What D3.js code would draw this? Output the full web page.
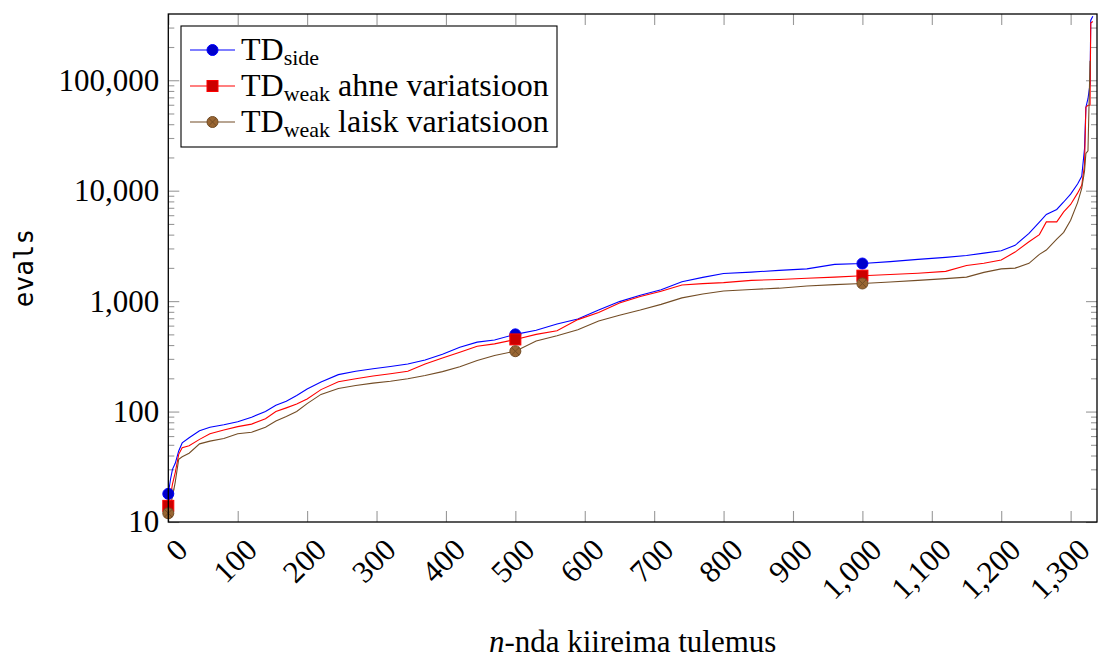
<!DOCTYPE html>
<html>
<head>
<meta charset="utf-8">
<script src="https://cdn.jsdelivr.net/npm/d3@7"></script>
<style>
  body { margin: 0; background: #fff; }
  text { white-space: pre; }
</style>
</head>
<body>
<div id="chart"></div>
<script>
// n-th fastest result (rank) and evals for each variant
let ranks = [0, 3, 6, 10, 15, 20, 30, 45, 60, 80,
    100, 120, 140, 155, 170, 185, 200, 220, 245, 270,
    295, 320, 345, 370, 395, 420, 445, 470, 500, 530,
    560, 590, 620, 650, 680, 710, 740, 770, 800, 840,
    880, 920, 960, 1000, 1040, 1080, 1120, 1150, 1175, 1200,
    1220, 1240, 1255, 1265, 1280, 1290, 1300, 1310, 1316, 1320,
    1322, 1325, 1328, 1329, 1332];

let tdSide = [18, 24, 30, 34, 44, 52, 58, 67, 72, 76,
    81, 89, 100, 114, 124, 140, 160, 185, 216, 232,
    244, 256, 270, 293, 330, 382, 425, 445, 500, 545,
    620, 690, 830, 990, 1130, 1270, 1500, 1640, 1780, 1830,
    1900, 1960, 2150, 2190, 2280, 2390, 2490, 2590, 2720, 2860,
    3200, 4100, 5200, 6100, 6760, 7900, 9300, 11500, 13500, 24000,
    57000, 68000, 93000, 350000, 380000];

let tdWeakAhne = [14, 17, 22, 28, 41, 47, 49, 56, 63, 68,
    73, 77, 86, 100, 108, 117, 130, 158, 186, 198,
    210, 220, 232, 270, 305, 345, 390, 410, 450, 500,
    540, 680, 790, 960, 1100, 1230, 1400, 1440, 1470, 1540,
    1570, 1610, 1650, 1700, 1740, 1790, 1860, 2100, 2200, 2360,
    2780, 3450, 4000, 5220, 5220, 6430, 7500, 9500, 11200, 17000,
    57000, 59400, 59400, 330000, 340000];

let tdWeakLaisk = [12, 14, 17, 23, 37, 39, 42, 51, 54, 57,
    63, 65, 72, 82, 90, 100, 118, 143, 162, 172,
    181, 188, 198, 212, 230, 255, 290, 322, 352, 435,
    485, 550, 660, 745, 830, 935, 1070, 1160, 1235, 1275,
    1310, 1370, 1410, 1445, 1490, 1540, 1600, 1650, 1820, 1960,
    1990, 2200, 2650, 2900, 3650, 4200, 5400, 7800, 10500, 15000,
    21700, 23000, 150000, null, null];

let markRanks = [0, 500, 1000];
let xTicks = d3.range(0, 1301, 100);
let yTicks = [10, 100, 1000, 10000, 100000];

let seriesList = [
    { values: tdSide, sub: 'side', rest: '', color: '#0000ff', fill: '#0000cc', mark: 'circle' },
    { values: tdWeakAhne, sub: 'weak', rest: ' ahne variatsioon', color: '#ff0000', fill: '#cc0000', mark: 'square' },
    { values: tdWeakLaisk, sub: 'weak', rest: ' laisk variatsioon', color: '#734d26', fill: '#996633', mark: 'otimes' }
];

let width = 1100, height = 659;
let plotLeft = 168.3, plotRight = 1097, plotTop = 14, plotBottom = 522;
let serif = '"Liberation Serif", "Times New Roman", serif';

let svg = d3.select('#chart').append('svg')
    .attr('width', width)
    .attr('height', height);

let x = d3.scaleLinear().domain([0, 1338]).range([plotLeft, plotRight]);
let y = d3.scaleLog().domain([10, 398000]).range([plotBottom, plotTop]);

// minor ticks for the log axis
let minorTicks = [];
for (let e = 1; e <= 5; e++) {
    for (let m = 2; m <= 9; m++) {
        let v = m * Math.pow(10, e);
        if (v < 398000) minorTicks.push(v);
    }
}

function styleTicks(g) {
    g.select('.domain').remove();
    g.selectAll('.tick line').attr('stroke', '#999').attr('stroke-width', 1.1);
}

// bottom axis
let xAxisG = svg.append('g')
    .attr('transform', 'translate(0,' + plotBottom + ')')
    .call(d3.axisBottom(x).tickValues(xTicks).tickSize(-11).tickFormat(d3.format(',')))
    .call(styleTicks);

xAxisG.selectAll('.tick text')
    .attr('x', 0).attr('y', 0).attr('dy', '0.35em')
    .attr('text-anchor', 'end')
    .attr('transform', 'translate(13,22) rotate(-45)')
    .attr('font-family', serif)
    .attr('font-size', 31)
    .attr('fill', '#000');

// top axis
svg.append('g')
    .attr('transform', 'translate(0,' + plotTop + ')')
    .call(d3.axisTop(x).tickValues(xTicks).tickSize(-11).tickFormat(''))
    .call(styleTicks);

// left axis
let yAxisG = svg.append('g')
    .attr('transform', 'translate(' + plotLeft + ',0)')
    .call(d3.axisLeft(y).tickValues(yTicks).tickSize(-11).tickPadding(9).tickFormat(d3.format(',')))
    .call(styleTicks);

yAxisG.selectAll('.tick text')
    .attr('font-family', serif)
    .attr('font-size', 31)
    .attr('fill', '#000');

svg.append('g')
    .attr('transform', 'translate(' + plotLeft + ',0)')
    .call(d3.axisLeft(y).tickValues(minorTicks).tickSize(-6).tickFormat(''))
    .call(styleTicks);

// right axis
svg.append('g')
    .attr('transform', 'translate(' + plotRight + ',0)')
    .call(d3.axisRight(y).tickValues(yTicks).tickSize(-11).tickFormat(''))
    .call(styleTicks);

svg.append('g')
    .attr('transform', 'translate(' + plotRight + ',0)')
    .call(d3.axisRight(y).tickValues(minorTicks).tickSize(-6).tickFormat(''))
    .call(styleTicks);

// lines
let line = d3.line()
    .defined(d => d.v != null)
    .x(d => x(d.r))
    .y(d => y(d.v));

svg.append('defs').append('clipPath').attr('id', 'plotclip')
    .append('rect')
    .attr('x', plotLeft).attr('y', plotTop)
    .attr('width', plotRight - plotLeft).attr('height', plotBottom - plotTop);

function drawMark(g, type, cx, cy, s) {
    if (type === 'circle') {
        g.append('circle').attr('cx', cx).attr('cy', cy).attr('r', 5.5)
            .attr('fill', s.fill).attr('stroke', s.color).attr('stroke-width', 1);
    } else if (type === 'square') {
        g.append('rect').attr('x', cx - 5.5).attr('y', cy - 5.5)
            .attr('width', 11).attr('height', 11)
            .attr('fill', s.fill).attr('stroke', s.color).attr('stroke-width', 1);
    } else {
        g.append('circle').attr('cx', cx).attr('cy', cy).attr('r', 5.5)
            .attr('fill', s.fill).attr('stroke', s.color).attr('stroke-width', 1);
        let k = 5.5 * Math.SQRT1_2;
        g.append('path')
            .attr('d', 'M' + (cx - k) + ',' + (cy - k) + 'L' + (cx + k) + ',' + (cy + k) +
                'M' + (cx - k) + ',' + (cy + k) + 'L' + (cx + k) + ',' + (cy - k))
            .attr('stroke', s.color).attr('stroke-width', 1);
    }
}

let plot = svg.append('g');

seriesList.forEach(function (s) {
    let pts = ranks.map((r, i) => ({ r: r, v: s.values[i] }));
    plot.append('path')
        .datum(pts)
        .attr('clip-path', 'url(#plotclip)')
        .attr('fill', 'none')
        .attr('stroke', s.color)
        .attr('stroke-width', 1.1)
        .attr('d', line);
});

seriesList.forEach(function (s) {
    let mg = plot.append('g');
    markRanks.forEach(function (r) {
        let i = ranks.indexOf(r);
        drawMark(mg, s.mark, x(r), y(s.values[i]), s);
    });
});

// frame
svg.append('rect')
    .attr('x', plotLeft).attr('y', plotTop)
    .attr('width', plotRight - plotLeft).attr('height', plotBottom - plotTop)
    .attr('fill', 'none')
    .attr('stroke', '#000')
    .attr('stroke-width', 1.3);

// legend
let lg = svg.append('g');
lg.append('rect')
    .attr('x', 181).attr('y', 26)
    .attr('width', 376).attr('height', 121)
    .attr('fill', '#fff')
    .attr('stroke', '#000')
    .attr('stroke-width', 1.1);

seriesList.forEach(function (s, i) {
    let cy = 50 + i * 36;
    lg.append('line')
        .attr('x1', 190).attr('x2', 235)
        .attr('y1', cy).attr('y2', cy)
        .attr('stroke', s.color).attr('stroke-width', 1.1);
    drawMark(lg, s.mark, 212.5, cy, s);
    let t = lg.append('text')
        .attr('x', 241).attr('y', cy + 10)
        .attr('font-family', serif)
        .attr('font-size', 32)
        .attr('fill', '#000');
    t.append('tspan').text('TD');
    t.append('tspan').attr('font-size', 22).attr('dy', 5).text(s.sub);
    if (s.rest) t.append('tspan').attr('dy', -5).text(s.rest);
});

// axis labels
let xl = svg.append('text')
    .attr('x', (plotLeft + plotRight) / 2)
    .attr('y', 652)
    .attr('text-anchor', 'middle')
    .attr('font-family', serif)
    .attr('font-size', 31)
    .attr('fill', '#000');
xl.append('tspan').attr('font-style', 'italic').text('n');
xl.append('tspan').text('-nda kiireima tulemus');

svg.append('text')
    .attr('transform', 'translate(33,' + ((plotTop + plotBottom) / 2) + ') rotate(-90)')
    .attr('text-anchor', 'middle')
    .attr('font-family', '"DejaVu Sans Mono", monospace')
    .attr('font-size', 26)
    .attr('fill', '#000')
    .text('evals');
</script>
</body>
</html>
